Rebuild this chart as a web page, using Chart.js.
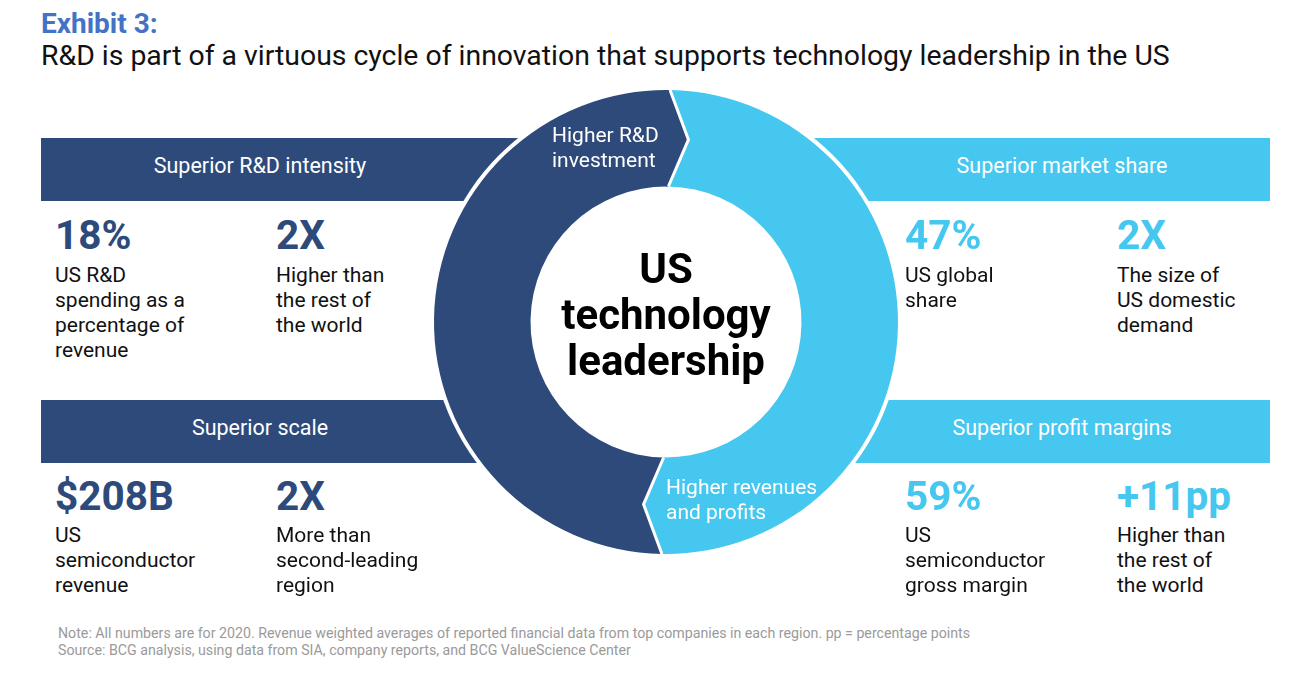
<!DOCTYPE html>
<html>
<head>
<meta charset="utf-8">
<script src="https://cdn.jsdelivr.net/npm/chart.js@4.4.1/dist/chart.umd.min.js"></script>
<style>
  body { margin: 0; width: 1311px; height: 676px; background: #fff; font-family: Roboto, "Liberation Sans", sans-serif; position: relative; overflow: hidden; }
  .abs { position: absolute; white-space: nowrap; }
  .band { position: absolute; height: 63px; color: #fff; font-size: 21.5px; line-height: 56px; }
  .band span { position: absolute; transform: translateX(-50%); white-space: nowrap; }
  .big { position: absolute; font-weight: 700; font-size: 40.5px; line-height: 40px; }
  .desc { position: absolute; font-size: 21px; line-height: 25px; color: #111; white-space: pre; }
  #wrap { position: absolute; left: 416px; top: 72px; width: 500px; height: 500px; }
</style>
</head>
<body>
<div class="abs" style="left:41px;top:7px;font-size:28px;font-weight:700;color:#4472c4;">Exhibit 3:</div>
<div class="abs" style="left:41px;top:39px;font-size:28.4px;color:#111;">R&amp;D is part of a virtuous cycle of innovation that supports technology leadership in the US</div>

<div id="bands"></div>
<div id="wrap"><canvas id="ring"></canvas></div>
<div id="stats"></div>

<div class="abs" style="left:552px;top:123px;font-size:21px;line-height:25px;color:#fff;">Higher R&amp;D<br>investment</div>
<div class="abs" style="left:666px;top:475px;font-size:21px;line-height:25px;color:#fff;">Higher revenues<br>and profits</div>
<div class="abs" style="left:556px;top:246px;width:220px;text-align:center;font-size:42px;line-height:46px;font-weight:700;color:#000;">US<br>technology<br>leadership</div>

<div class="abs" style="left:58px;top:625px;font-size:14.2px;line-height:17px;color:#9a9a9a;">Note: All numbers are for 2020. Revenue weighted averages of reported financial data from top companies in each region. pp = percentage points<br>Source: BCG analysis, using data from SIA, company reports, and BCG ValueScience Center</div>

<script>
const navy = '#2d4a7b';
const sky = '#45c7f0';

// ring: two halves of the cycle
const cycleLabels = ['Higher R&D investment', 'Higher revenues and profits'];
const cycleShares = [50, 50];
const cycleColors = [navy, sky];

// banners
const bandTitles = ['Superior R&D intensity', 'Superior market share', 'Superior scale', 'Superior profit margins'];
const bandColors = [navy, sky, navy, sky];

// big figures and captions
const statValues = ['18%', '2X', '47%', '2X', '$208B', '2X', '59%', '+11pp'];
const statCaptions = [
  'US R&D\nspending as a\npercentage of\nrevenue',
  'Higher than\nthe rest of\nthe world',
  'US global\nshare',
  'The size of\nUS domestic\ndemand',
  'US\nsemiconductor\nrevenue',
  'More than\nsecond-leading\nregion',
  'US\nsemiconductor\ngross margin',
  'Higher than\nthe rest of\nthe world'
];

const bands = document.getElementById('bands');
bandTitles.forEach((t, i) => {
  const right = i % 2 === 1;
  const top = i < 2 ? 138 : 400;
  const d = document.createElement('div');
  d.className = 'band';
  d.style.background = bandColors[i];
  d.style.top = top + 'px';
  d.style.left = (right ? 666 : 41) + 'px';
  d.style.width = (right ? 1270 - 666 : 666 - 41) + 'px';
  const s = document.createElement('span');
  s.textContent = t;
  s.style.left = (right ? 1062 - 666 : 260 - 41) + 'px';
  d.appendChild(s);
  bands.appendChild(d);
});

const colX = [55, 276, 905, 1117];
const stats = document.getElementById('stats');
statValues.forEach((v, i) => {
  const col = i % 4;
  const row = i < 4 ? 0 : 1;
  const b = document.createElement('div');
  b.className = 'big';
  b.textContent = v;
  b.style.left = colX[col] + 'px';
  b.style.top = (row ? 476 : 215) + 'px';
  b.style.color = col < 2 ? navy : sky;
  stats.appendChild(b);
  const c = document.createElement('div');
  c.className = 'desc';
  c.textContent = statCaptions[i];
  c.style.left = colX[col] + 'px';
  c.style.top = (row ? 523 : 263) + 'px';
  stats.appendChild(c);
});

// white disc behind the ring + chevron heads at each segment end
const chevrons = {
  id: 'chevrons',
  beforeDatasetsDraw(chart) {
    const arc = chart.getDatasetMeta(0).data[0];
    const p = arc.getProps(['x', 'y', 'outerRadius'], true);
    const ctx = chart.ctx;
    ctx.save();
    ctx.fillStyle = '#fff';
    ctx.beginPath();
    ctx.arc(p.x, p.y, p.outerRadius + 4, 0, Math.PI * 2);
    ctx.fill();
    ctx.restore();
  },
  afterDatasetsDraw(chart) {
    const ctx = chart.ctx;
    chart.getDatasetMeta(0).data.forEach((arc, i) => {
      const p = arc.getProps(['x', 'y', 'endAngle', 'innerRadius', 'outerRadius'], true);
      const a = p.endAngle;
      const back = a - 0.02;
      const mid = (p.innerRadius + p.outerRadius) / 2;
      const tip = a + 0.105;
      const pt = (r, ang) => [p.x + r * Math.cos(ang), p.y + r * Math.sin(ang)];
      ctx.save();
      // head, overlapping the segment a little so no seam shows
      ctx.beginPath();
      ctx.arc(p.x, p.y, p.outerRadius, back, a);
      ctx.lineTo(...pt(mid, tip));
      ctx.lineTo(...pt(p.innerRadius, a));
      ctx.arc(p.x, p.y, p.innerRadius, a, back, true);
      ctx.closePath();
      ctx.fillStyle = cycleColors[i];
      ctx.fill();
      // white edge between the head and the next segment
      ctx.beginPath();
      ctx.moveTo(...pt(p.outerRadius, a));
      ctx.lineTo(...pt(mid, tip));
      ctx.lineTo(...pt(p.innerRadius, a));
      ctx.strokeStyle = '#fff';
      ctx.lineWidth = 3;
      ctx.stroke();
      ctx.restore();
    });
  }
};

new Chart('ring', {
  type: 'doughnut',
  data: {
    labels: cycleLabels,
    datasets: [{
      data: cycleShares,
      backgroundColor: cycleColors,
      borderWidth: 0
    }]
  },
  options: {
    responsive: true,
    maintainAspectRatio: false,
    animation: false,
    rotation: 181,
    radius: 232,
    cutout: 146,
    plugins: { legend: { display: false }, tooltip: { enabled: false } }
  },
  plugins: [chevrons]
});
</script>
</body>
</html>
